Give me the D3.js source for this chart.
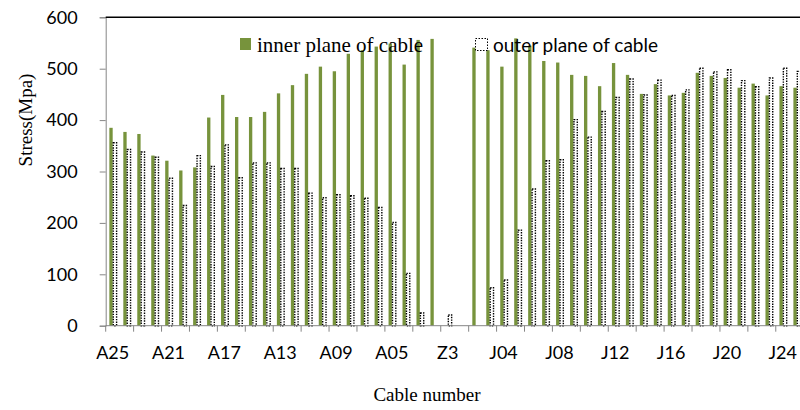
<!DOCTYPE html>
<html>
<head>
<meta charset="utf-8">
<script src="https://cdn.jsdelivr.net/npm/d3@7"></script>
<style>
  body { margin: 0; background: #fff; }
</style>
</head>
<body>
<div id="chart"></div>
<script>
const cables = [
  'A25', 'A24', 'A23', 'A22', 'A21', 'A20', 'A19', 'A18', 'A17', 'A16',
  'A15', 'A14', 'A13', 'A12', 'A11', 'A10', 'A09', 'A08', 'A07', 'A06',
  'A05', 'A04', 'A03', 'A02', 'Z3', 'J01', 'J02', 'J03', 'J04', 'J05',
  'J06', 'J07', 'J08', 'J09', 'J10', 'J11', 'J12', 'J13', 'J14', 'J15',
  'J16', 'J17', 'J18', 'J19', 'J20', 'J21', 'J22', 'J23', 'J24', 'J25'
];

// stress on the inner plane of the cable (MPa)
const innerStress = [
  385, 377, 373, 331, 321, 302, 308, 405, 449, 406,
  406, 416, 452, 468, 490, 504, 495, 529, 536, 543,
  549, 508, 556, 558, 0, 0, 541, 536, 504, 559,
  545, 515, 512, 488, 486, 466, 511, 488, 451, 470,
  448, 453, 492, 486, 482, 463, 471, 448, 466, 463
];

// stress on the outer plane of the cable (MPa)
const outerStress = [
  357, 344, 339, 329, 288, 235, 332, 311, 353, 289,
  318, 318, 307, 307, 259, 250, 256, 254, 249, 231,
  202, 103, 26, 0, 22, 0, 0, 75, 90, 187,
  267, 322, 324, 402, 368, 418, 445, 481, 450, 479,
  449, 460, 502, 495, 499, 478, 466, 483, 502, 496
];

const yTicks = [0, 100, 200, 300, 400, 500, 600];

const series = ['inner', 'outer'];
const rows = cables.map((c, i) => ({ cable: c, inner: innerStress[i], outer: outerStress[i] }));

const width = 800;
const height = 410;
const plotLeft = 105.7;
const plotTop = 17.3;
const plotBottom = 325.7;
const step = 13.96;

const green = '#77933C';

const svg = d3.select('#chart')
  .append('svg')
  .attr('width', width)
  .attr('height', height);

const x = d3.scaleBand()
  .domain(cables)
  .range([plotLeft, plotLeft + step * cables.length])
  .padding(0);

const xSeries = d3.scaleBand()
  .domain(series)
  .range([0, x.bandwidth()])
  .paddingInner(0)
  .paddingOuter(1.1);

const y = d3.scaleLinear()
  .domain([0, 600])
  .range([plotBottom, plotTop]);

// bars
const groups = svg.append('g')
  .selectAll('g')
  .data(rows)
  .enter()
  .append('g')
  .attr('transform', d => `translate(${x(d.cable)},0)`);

groups.append('rect')
  .attr('x', xSeries('inner'))
  .attr('y', d => y(d.inner))
  .attr('width', xSeries.bandwidth())
  .attr('height', d => y(0) - y(d.inner))
  .attr('fill', green);

// outer plane: dotted outline, reads as two columns of dots
groups.filter(d => d.outer > 0)
  .append('rect')
  .attr('x', xSeries('outer') + 0.6)
  .attr('y', d => y(d.outer) + 0.6)
  .attr('width', xSeries.bandwidth())
  .attr('height', d => y(0) - y(d.outer) - 0.6)
  .attr('fill', '#fff')
  .attr('stroke', '#000')
  .attr('stroke-width', 1.4)
  .attr('stroke-dasharray', '1.4,1.2');

// y axis
const yAxis = svg.append('g')
  .attr('transform', `translate(${plotLeft},0)`)
  .call(d3.axisLeft(y).tickValues(yTicks).tickSize(6).tickPadding(22));

yAxis.select('.domain').attr('stroke', '#868686');
yAxis.selectAll('.tick line').attr('stroke', '#868686');
yAxis.selectAll('.tick text')
  .style('font-family', 'Lato, sans-serif')
  .style('font-size', '18px')
  .attr('fill', '#000');

// x axis: labels every 4th cable, tick marks every 2nd
const xAxis = svg.append('g')
  .attr('transform', `translate(0,${plotBottom})`)
  .call(d3.axisBottom(x)
    .tickValues(cables.filter((c, i) => i % 4 === 0))
    .tickSize(0)
    .tickPadding(21));

xAxis.select('.domain').remove();
xAxis.selectAll('.tick text')
  .style('font-family', 'Lato, sans-serif')
  .style('font-size', '18px')
  .attr('fill', '#000');

svg.append('line')
  .attr('x1', plotLeft)
  .attr('x2', x.range()[1])
  .attr('y1', plotBottom)
  .attr('y2', plotBottom)
  .attr('stroke', '#868686');

svg.append('g')
  .selectAll('line')
  .data(cables.filter((c, i) => i % 2 === 0))
  .enter()
  .append('line')
  .attr('x1', d => x(d))
  .attr('x2', d => x(d))
  .attr('y1', plotBottom)
  .attr('y2', plotBottom + 6)
  .attr('stroke', '#868686');

// top border of the plot area
svg.append('line')
  .attr('x1', plotLeft)
  .attr('x2', width)
  .attr('y1', plotTop)
  .attr('y2', plotTop)
  .attr('stroke', '#000')
  .attr('stroke-width', 1.5);

// axis titles
svg.append('text')
  .attr('transform', 'translate(32,120) rotate(-90)')
  .attr('text-anchor', 'middle')
  .style('font-family', '"Liberation Serif", serif')
  .style('font-size', '19px')
  .text('Stress(Mpa)');

svg.append('text')
  .attr('x', 427)
  .attr('y', 401)
  .attr('text-anchor', 'middle')
  .style('font-family', '"Liberation Serif", serif')
  .style('font-size', '19px')
  .text('Cable number');

// legend
svg.append('rect')
  .attr('x', 240)
  .attr('y', 38)
  .attr('width', 11)
  .attr('height', 12)
  .attr('fill', green);

svg.append('text')
  .attr('x', 257)
  .attr('y', 52)
  .style('font-family', '"Liberation Serif", serif')
  .style('font-size', '21px')
  .text('inner plane of cable');

svg.append('rect')
  .attr('x', 475.5)
  .attr('y', 38.5)
  .attr('width', 12)
  .attr('height', 12)
  .attr('fill', '#fff')
  .attr('stroke', '#000')
  .attr('stroke-dasharray', '1.5,1.5');

svg.append('text')
  .attr('x', 493)
  .attr('y', 52)
  .style('font-family', 'Lato, sans-serif')
  .style('font-size', '19px')
  .text('outer plane of cable');
</script>
</body>
</html>
